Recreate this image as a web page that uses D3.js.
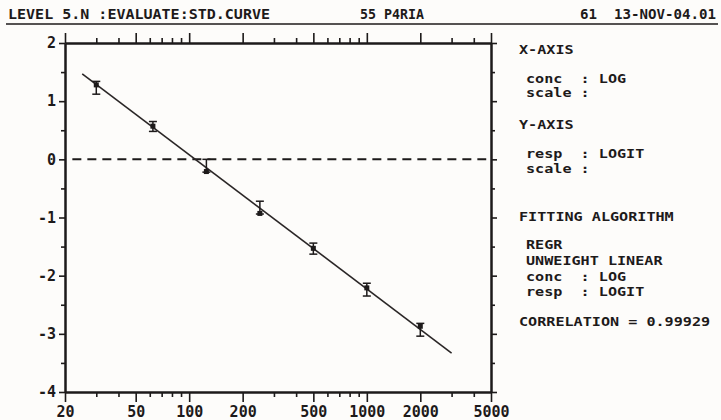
<!DOCTYPE html>
<html>
<head>
<meta charset="utf-8">
<script src="https://cdn.jsdelivr.net/npm/d3@7"></script>
<style>
  body { margin: 0; background: #fdfcfa; }
  text { font-family: "DejaVu Sans Mono", monospace; font-weight: bold; fill: #1d1a1a; white-space: pre; }
</style>
</head>
<body>
<div id="chart"></div>
<script>
// standards: concentration and logit response (mean, low, high)
const conc = [30, 62.5, 125, 250, 500, 1000, 2000];
const respMean = [1.28, 0.57, -0.21, -0.93, -1.53, -2.21, -2.87];
const respLow = [1.12, 0.48, -0.22, -0.94, -1.63, -2.35, -3.04];
const respHigh = [1.34, 0.65, 0.0, -0.72, -1.44, -2.13, -2.82];

// fitted regression line ends
const fitX = [25, 3000];
const fitY = [1.47, -3.33];

const xMajor = [20, 50, 100, 200, 500, 1000, 2000, 5000];
const xMinor = [30, 40, 60, 70, 80, 90, 300, 400, 600, 700, 800, 900, 3000, 4000];
const yMajor = [-4, -3, -2, -1, 0, 1, 2];
const yMinor = [-3.5, -2.5, -1.5, -0.5, 0.5, 1.5];

const header = [
    {text: "LEVEL 5.N :EVALUATE:STD.CURVE", x: 8, len: 262},
    {text: "55 P4RIA", x: 360, len: 64},
    {text: "61  13-NOV-04.01", x: 580, len: 136}
];
const panel = [
    {text: "X-AXIS", x: 519, y: 50},
    {text: "conc  : LOG", x: 526, y: 79},
    {text: "scale :", x: 526, y: 93},
    {text: "Y-AXIS", x: 519, y: 125},
    {text: "resp  : LOGIT", x: 526, y: 154},
    {text: "scale :", x: 526, y: 169},
    {text: "FITTING ALGORITHM", x: 519, y: 217},
    {text: "REGR", x: 526, y: 245},
    {text: "UNWEIGHT LINEAR", x: 526, y: 261},
    {text: "conc  : LOG", x: 526, y: 277},
    {text: "resp  : LOGIT", x: 526, y: 292},
    {text: "CORRELATION = 0.99929", x: 519, y: 322}
];

const width = 721, height = 420;
const ink = "#1d1a1a";

const svg = d3.select("#chart").append("svg")
    .attr("width", width)
    .attr("height", height);

// scales
const x = d3.scaleLog().domain([20, 5000]).range([65, 491]);
const y = d3.scaleLinear().domain([-4, 2]).range([392, 43]);

// header line
svg.selectAll(".hdr")
    .data(header)
    .enter().append("text")
    .attr("class", "hdr")
    .attr("x", d => d.x)
    .attr("y", 19)
    .attr("font-size", 14)
    .attr("textLength", d => d.len)
    .attr("lengthAdjust", "spacingAndGlyphs")
    .text(d => d.text);
svg.append("line")
    .attr("x1", 6).attr("x2", 718)
    .attr("y1", 24).attr("y2", 24)
    .attr("stroke", ink).attr("stroke-width", 1.5);

// axes
function styleAxis(g) {
    g.select(".domain").attr("stroke", ink).attr("stroke-width", 2);
    g.selectAll(".tick line").attr("stroke", ink).attr("stroke-width", 1.6);
    g.selectAll(".tick text").attr("font-size", 15).style("fill", ink)
        .attr("font-family", "DejaVu Sans Mono").attr("font-weight", "bold");
}
const noLabel = () => "";

svg.append("g").attr("transform", `translate(0,${y(-4)})`)
    .call(d3.axisBottom(x).tickValues(xMajor).tickSize(10).tickSizeOuter(0).tickFormat(d3.format("d")).tickPadding(4))
    .call(styleAxis);
svg.append("g").attr("transform", `translate(0,${y(-4)})`)
    .call(d3.axisBottom(x).tickValues(xMinor).tickSize(5).tickSizeOuter(0).tickFormat(noLabel))
    .call(styleAxis);
svg.append("g").attr("transform", `translate(0,${y(2)})`)
    .call(d3.axisTop(x).tickValues(xMajor).tickSize(10).tickSizeOuter(0).tickFormat(noLabel))
    .call(styleAxis);
svg.append("g").attr("transform", `translate(0,${y(2)})`)
    .call(d3.axisTop(x).tickValues(xMinor).tickSize(5).tickSizeOuter(0).tickFormat(noLabel))
    .call(styleAxis);

svg.append("g").attr("transform", `translate(${x(20)},0)`)
    .call(d3.axisLeft(y).tickValues(yMajor).tickSize(6).tickSizeOuter(0).tickFormat(d3.format("d")).tickPadding(3))
    .call(styleAxis);
svg.append("g").attr("transform", `translate(${x(20)},0)`)
    .call(d3.axisLeft(y).tickValues(yMinor).tickSize(4).tickSizeOuter(0).tickFormat(noLabel))
    .call(styleAxis);
svg.append("g").attr("transform", `translate(${x(5000)},0)`)
    .call(d3.axisRight(y).tickValues(yMajor).tickSize(6).tickSizeOuter(0).tickFormat(noLabel))
    .call(styleAxis);
svg.append("g").attr("transform", `translate(${x(5000)},0)`)
    .call(d3.axisRight(y).tickValues(yMinor).tickSize(4).tickSizeOuter(0).tickFormat(noLabel))
    .call(styleAxis);

// use hyphen for negative labels like the original
svg.selectAll(".tick text").text(function() { return this.textContent.replace("\u2212", "-"); });

// zero reference line
svg.append("line")
    .attr("x1", x(22)).attr("x2", x(4700))
    .attr("y1", y(0)).attr("y2", y(0))
    .attr("stroke", ink).attr("stroke-width", 2)
    .attr("stroke-dasharray", "9,6");

// fitted line
svg.append("path")
    .datum(fitX.map((c, i) => [c, fitY[i]]))
    .attr("fill", "none")
    .attr("stroke", "#2a2626")
    .attr("stroke-width", 1.6)
    .attr("d", d3.line().x(d => x(d[0])).y(d => y(d[1])));

// error bars
const pts = svg.selectAll(".pt")
    .data(conc.map((c, i) => ({c, m: respMean[i], lo: respLow[i], hi: respHigh[i]})))
    .enter().append("g").attr("class", "pt");
pts.append("line")
    .attr("x1", d => x(d.c)).attr("x2", d => x(d.c))
    .attr("y1", d => y(d.hi)).attr("y2", d => y(d.lo))
    .attr("stroke", ink).attr("stroke-width", 1.5);
pts.append("line")
    .attr("x1", d => x(d.c) - 4).attr("x2", d => x(d.c) + 4)
    .attr("y1", d => y(d.hi)).attr("y2", d => y(d.hi))
    .attr("stroke", ink).attr("stroke-width", 1.5);
pts.append("line")
    .attr("x1", d => x(d.c) - 4).attr("x2", d => x(d.c) + 4)
    .attr("y1", d => y(d.lo)).attr("y2", d => y(d.lo))
    .attr("stroke", ink).attr("stroke-width", 1.5);
pts.append("rect")
    .attr("x", d => x(d.c) - 2.5).attr("y", d => y(d.m) - 2.5)
    .attr("width", 5).attr("height", 5)
    .attr("fill", ink);

// info panel
svg.selectAll(".info")
    .data(panel)
    .enter().append("text")
    .attr("class", "info")
    .attr("x", d => d.x)
    .attr("y", d => d.y)
    .attr("dy", "0.35em")
    .attr("font-size", 12)
    .attr("textLength", d => d.text.length * 9.1)
    .attr("lengthAdjust", "spacingAndGlyphs")
    .text(d => d.text);
</script>
</body>
</html>
